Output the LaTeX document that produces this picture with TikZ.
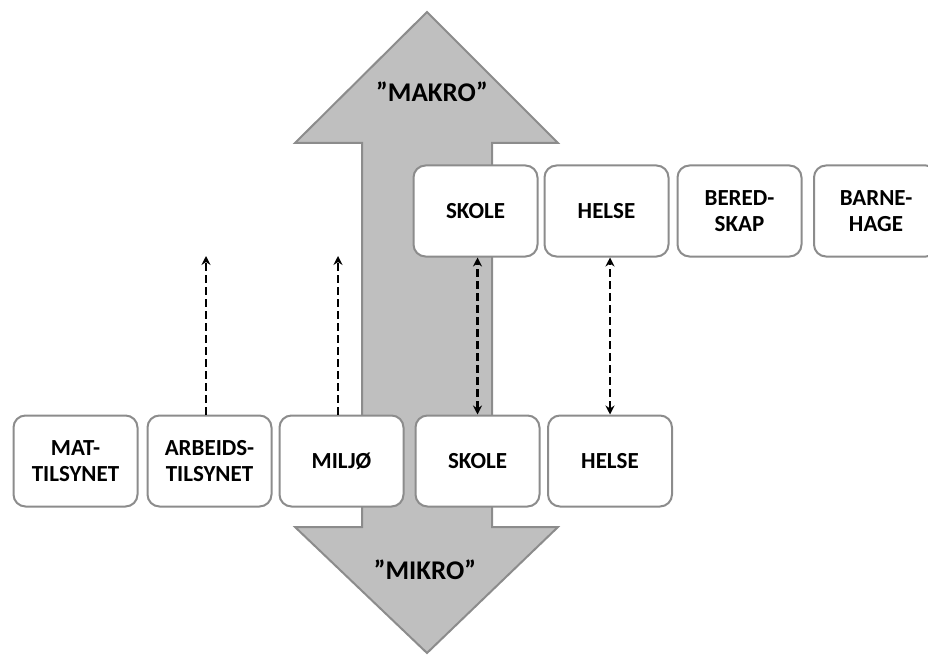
\documentclass[tikz,border=0pt]{standalone}
\usepackage{fontspec}
\setmainfont{Carlito}
\usetikzlibrary{arrows.meta}
\definecolor{bordergray}{RGB}{140,140,140}
\definecolor{arrowfill}{RGB}{191,191,191}
\begin{document}
\begin{tikzpicture}[x=1pt,y=-1pt,
  box/.style={draw=bordergray, line width=2pt, rounded corners=12pt, fill=white,
    minimum width=124pt, minimum height=91pt, align=center, inner sep=0pt,
    font=\bfseries\fontsize{23}{26}\selectfont},
  link/.style={line width=2.6pt, dash pattern=on 8pt off 4pt},
  tip/.style={-{Stealth[length=9pt,width=9pt]}},
  dtip/.style={{Stealth[length=9pt,width=9pt]}-{Stealth[length=9pt,width=9pt]}},
  bigarrow/.style={draw=bordergray, line width=2pt, fill=arrowfill, line join=miter},
  biglabel/.style={font=\bfseries\fontsize{27}{30}\selectfont}]
\useasboundingbox (0,0) rectangle (928,655);
% big double arrow
\draw[bigarrow] (427,12) -- (558,143) -- (492,143) -- (492,527) -- (558,527) -- (427,653)
  -- (295,527) -- (362,527) -- (362,143) -- (295,143) -- cycle;
\node[biglabel] (makro) at (432,92) {”MAKRO”};
\node[biglabel] (mikro) at (425,570) {”MIKRO”};
% top row
\node[box] (skoleT) at (475.5,211) {SKOLE};
\node[box] (helseT) at (606.5,211) {HELSE};
\node[box] (bered) at (739.5,211) {BERED-\\SKAP};
\node[box] (barne) at (876,211) {BARNE-\\HAGE};
% bottom row
\node[box] (mat) at (75.5,461) {MAT-\\TILSYNET};
\node[box] (arbeid) at (209.5,461) {ARBEIDS-\\TILSYNET};
\node[box] (miljo) at (341.5,461) {MILJØ};
\node[box] (skoleB) at (477.5,461) {SKOLE};
\node[box] (helseB) at (610,461) {HELSE};
% dashed connectors
\coordinate (arbeidEnd) at (206,256);
\coordinate (miljoEnd) at (338,256);
\draw[link,tip] (arbeid.north -| arbeidEnd) -- (arbeidEnd);
\draw[link,tip] (miljo.north -| miljoEnd) -- (miljoEnd);
\draw[link,dtip] (skoleB.north) -- (skoleB.north |- skoleT.south);
\draw[link,dtip] (helseB.north) -- (helseB.north |- helseT.south);
\end{tikzpicture}
\end{document}
